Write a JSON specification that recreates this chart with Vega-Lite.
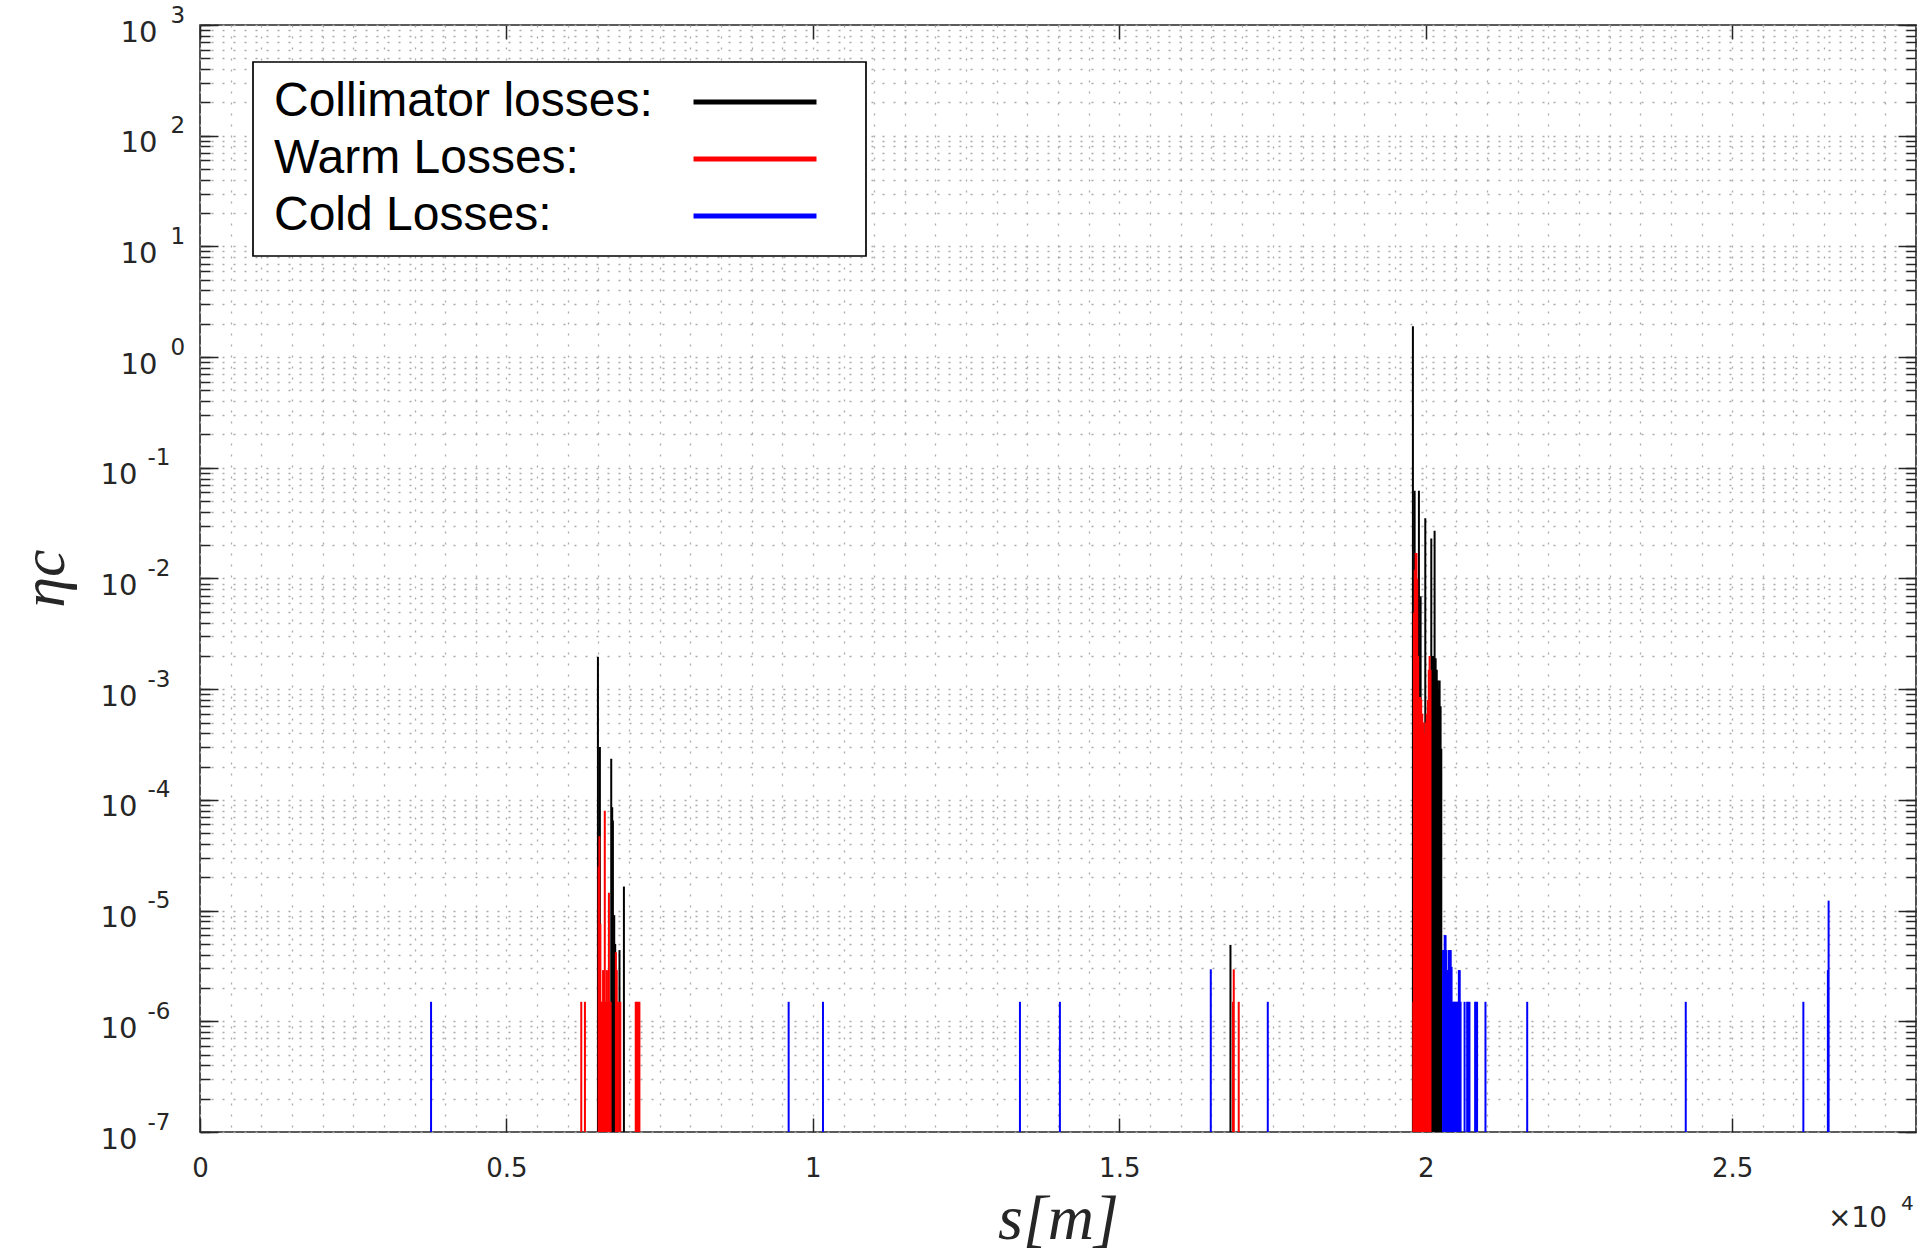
{
  "$schema": "https://vega.github.io/schema/vega-lite/v6.json",
  "autosize": {"type": "none"},
  "width": 1716,
  "height": 1107,
  "padding": {"left": 200, "top": 25, "right": 4, "bottom": 119},
  "background": "#ffffff",
  "config": {
    "view": {"stroke": "#262626", "strokeWidth": 1.6},
    "axis": {"domain": false, "labelColor": "#262626", "tickColor": "#262626", "tickWidth": 1.5, "gridColor": "#aaaaaa", "gridDash": [2, 9], "gridWidth": 1.3, "labelOverlap": false, "labelFlush": false}
  },
  "data": {"values": [
    {"s": 6493, "eta": 1.95e-3, "type": "Collimator losses:"},
    {"s": 6525, "eta": 3.0e-4, "type": "Collimator losses:"},
    {"s": 6710, "eta": 2.35e-4, "type": "Collimator losses:"},
    {"s": 6726, "eta": 8.6e-5, "type": "Collimator losses:"},
    {"s": 6737, "eta": 6.5e-5, "type": "Collimator losses:"},
    {"s": 6759, "eta": 9.1e-6, "type": "Collimator losses:"},
    {"s": 6775, "eta": 5.0e-6, "type": "Collimator losses:"},
    {"s": 6845, "eta": 4.4e-6, "type": "Collimator losses:"},
    {"s": 6917, "eta": 1.65e-5, "type": "Collimator losses:"},
    {"s": 16814, "eta": 4.9e-6, "type": "Collimator losses:"},
    {"s": 19791, "eta": 1.9, "type": "Collimator losses:"},
    {"s": 19819, "eta": 0.062, "type": "Collimator losses:"},
    {"s": 19889, "eta": 0.062, "type": "Collimator losses:"},
    {"s": 19917, "eta": 0.0069, "type": "Collimator losses:"},
    {"s": 19993, "eta": 0.035, "type": "Collimator losses:"},
    {"s": 20091, "eta": 0.023, "type": "Collimator losses:"},
    {"s": 20105, "eta": 2.0e-3, "type": "Collimator losses:"},
    {"s": 20120, "eta": 1.9e-3, "type": "Collimator losses:"},
    {"s": 20133, "eta": 2.0e-3, "type": "Collimator losses:"},
    {"s": 20145, "eta": 0.027, "type": "Collimator losses:"},
    {"s": 20162, "eta": 1.9e-3, "type": "Collimator losses:"},
    {"s": 20180, "eta": 1.5e-3, "type": "Collimator losses:"},
    {"s": 20199, "eta": 1.2e-3, "type": "Collimator losses:"},
    {"s": 20213, "eta": 1.0e-3, "type": "Collimator losses:"},
    {"s": 20227, "eta": 1.2e-3, "type": "Collimator losses:"},
    {"s": 20243, "eta": 7.0e-4, "type": "Collimator losses:"},
    {"s": 20254, "eta": 2.9e-4, "type": "Collimator losses:"},
    {"s": 6221, "eta": 1.5e-6, "type": "Warm Losses:"},
    {"s": 6281, "eta": 1.5e-6, "type": "Warm Losses:"},
    {"s": 6505, "eta": 2.5e-5, "type": "Warm Losses:"},
    {"s": 6517, "eta": 4.7e-5, "type": "Warm Losses:"},
    {"s": 6533, "eta": 7.6e-6, "type": "Warm Losses:"},
    {"s": 6548, "eta": 1.5e-6, "type": "Warm Losses:"},
    {"s": 6562, "eta": 1.5e-6, "type": "Warm Losses:"},
    {"s": 6577, "eta": 2.9e-6, "type": "Warm Losses:"},
    {"s": 6591, "eta": 1.5e-6, "type": "Warm Losses:"},
    {"s": 6605, "eta": 8.0e-5, "type": "Warm Losses:"},
    {"s": 6620, "eta": 1.5e-6, "type": "Warm Losses:"},
    {"s": 6640, "eta": 2.9e-6, "type": "Warm Losses:"},
    {"s": 6655, "eta": 1.5e-6, "type": "Warm Losses:"},
    {"s": 6672, "eta": 1.45e-5, "type": "Warm Losses:"},
    {"s": 6688, "eta": 1.5e-6, "type": "Warm Losses:"},
    {"s": 6700, "eta": 1.5e-6, "type": "Warm Losses:"},
    {"s": 6786, "eta": 4.2e-6, "type": "Warm Losses:"},
    {"s": 6800, "eta": 2.9e-6, "type": "Warm Losses:"},
    {"s": 6815, "eta": 1.5e-6, "type": "Warm Losses:"},
    {"s": 6830, "eta": 1.5e-6, "type": "Warm Losses:"},
    {"s": 6858, "eta": 1.5e-6, "type": "Warm Losses:"},
    {"s": 7110, "eta": 1.5e-6, "type": "Warm Losses:"},
    {"s": 7130, "eta": 1.5e-6, "type": "Warm Losses:"},
    {"s": 7150, "eta": 1.5e-6, "type": "Warm Losses:"},
    {"s": 7170, "eta": 1.5e-6, "type": "Warm Losses:"},
    {"s": 16856, "eta": 1.5e-6, "type": "Warm Losses:"},
    {"s": 16868, "eta": 2.95e-6, "type": "Warm Losses:"},
    {"s": 16949, "eta": 1.5e-6, "type": "Warm Losses:"},
    {"s": 19798, "eta": 1.5e-6, "type": "Warm Losses:"},
    {"s": 19807, "eta": 4.9e-3, "type": "Warm Losses:"},
    {"s": 19822, "eta": 0.012, "type": "Warm Losses:"},
    {"s": 19836, "eta": 0.017, "type": "Warm Losses:"},
    {"s": 19850, "eta": 0.017, "type": "Warm Losses:"},
    {"s": 19862, "eta": 0.01, "type": "Warm Losses:"},
    {"s": 19876, "eta": 2.0e-3, "type": "Warm Losses:"},
    {"s": 19895, "eta": 8.5e-4, "type": "Warm Losses:"},
    {"s": 19911, "eta": 8.5e-4, "type": "Warm Losses:"},
    {"s": 19926, "eta": 8e-4, "type": "Warm Losses:"},
    {"s": 19944, "eta": 6e-4, "type": "Warm Losses:"},
    {"s": 19962, "eta": 5e-4, "type": "Warm Losses:"},
    {"s": 19980, "eta": 4e-4, "type": "Warm Losses:"},
    {"s": 19998, "eta": 5e-4, "type": "Warm Losses:"},
    {"s": 20016, "eta": 6e-4, "type": "Warm Losses:"},
    {"s": 20034, "eta": 8e-4, "type": "Warm Losses:"},
    {"s": 20050, "eta": 1.5e-3, "type": "Warm Losses:"},
    {"s": 20063, "eta": 2.0e-3, "type": "Warm Losses:"},
    {"s": 20078, "eta": 1.5e-3, "type": "Warm Losses:"},
    {"s": 3770, "eta": 1.5e-6, "type": "Cold Losses:"},
    {"s": 9605, "eta": 1.5e-6, "type": "Cold Losses:"},
    {"s": 10165, "eta": 1.5e-6, "type": "Cold Losses:"},
    {"s": 13379, "eta": 1.5e-6, "type": "Cold Losses:"},
    {"s": 14031, "eta": 1.5e-6, "type": "Cold Losses:"},
    {"s": 16493, "eta": 2.95e-6, "type": "Cold Losses:"},
    {"s": 17423, "eta": 1.5e-6, "type": "Cold Losses:"},
    {"s": 20283, "eta": 4.4e-6, "type": "Cold Losses:"},
    {"s": 20296, "eta": 4.4e-6, "type": "Cold Losses:"},
    {"s": 20310, "eta": 6.0e-6, "type": "Cold Losses:"},
    {"s": 20324, "eta": 6.0e-6, "type": "Cold Losses:"},
    {"s": 20338, "eta": 4.4e-6, "type": "Cold Losses:"},
    {"s": 20352, "eta": 2.9e-6, "type": "Cold Losses:"},
    {"s": 20366, "eta": 2.9e-6, "type": "Cold Losses:"},
    {"s": 20380, "eta": 4.4e-6, "type": "Cold Losses:"},
    {"s": 20394, "eta": 4.4e-6, "type": "Cold Losses:"},
    {"s": 20408, "eta": 4.4e-6, "type": "Cold Losses:"},
    {"s": 20422, "eta": 3.1e-6, "type": "Cold Losses:"},
    {"s": 20437, "eta": 1.5e-6, "type": "Cold Losses:"},
    {"s": 20452, "eta": 1.5e-6, "type": "Cold Losses:"},
    {"s": 20467, "eta": 1.5e-6, "type": "Cold Losses:"},
    {"s": 20482, "eta": 1.5e-6, "type": "Cold Losses:"},
    {"s": 20497, "eta": 1.5e-6, "type": "Cold Losses:"},
    {"s": 20512, "eta": 1.5e-6, "type": "Cold Losses:"},
    {"s": 20527, "eta": 1.5e-6, "type": "Cold Losses:"},
    {"s": 20541, "eta": 2.9e-6, "type": "Cold Losses:"},
    {"s": 20555, "eta": 2.9e-6, "type": "Cold Losses:"},
    {"s": 20569, "eta": 1.5e-6, "type": "Cold Losses:"},
    {"s": 20634, "eta": 1.5e-6, "type": "Cold Losses:"},
    {"s": 20676, "eta": 1.5e-6, "type": "Cold Losses:"},
    {"s": 20695, "eta": 1.5e-6, "type": "Cold Losses:"},
    {"s": 20714, "eta": 1.5e-6, "type": "Cold Losses:"},
    {"s": 20806, "eta": 1.5e-6, "type": "Cold Losses:"},
    {"s": 20822, "eta": 1.5e-6, "type": "Cold Losses:"},
    {"s": 20838, "eta": 1.5e-6, "type": "Cold Losses:"},
    {"s": 20975, "eta": 1.5e-6, "type": "Cold Losses:"},
    {"s": 21656, "eta": 1.5e-6, "type": "Cold Losses:"},
    {"s": 24243, "eta": 1.5e-6, "type": "Cold Losses:"},
    {"s": 26162, "eta": 1.5e-6, "type": "Cold Losses:"},
    {"s": 26562, "eta": 2.9e-6, "type": "Cold Losses:"},
    {"s": 26574, "eta": 1.23e-5, "type": "Cold Losses:"}
  ]},
  "resolve": {"axis": {"x": "independent", "y": "independent"}},
  "layer": [
    {
      "mark": {"type": "rule", "strokeWidth": 2},
      "encoding": {
        "x": {"field": "s", "type": "quantitative",
          "scale": {"domain": [0, 28000], "nice": false, "zero": false},
          "axis": {"orient": "bottom", "values": [0, 5000, 10000, 15000, 20000, 25000], "ticks": false, "grid": false,
            "labelExpr": "'' + datum.value / 10000", "labelFont": "DejaVu Sans", "labelFontSize": 26, "labelPadding": 23, "labelBaseline": "top",
            "title": "s[m]", "titleFont": "Liberation Serif", "titleFontStyle": "italic", "titleFontWeight": "normal", "titleFontSize": 64, "titleColor": "#262626",
            "titleX": 858, "titleY": 106, "titleBaseline": "alphabetic", "titleAlign": "center"}},
        "y": {"field": "eta", "type": "quantitative",
          "scale": {"type": "log", "domain": [1e-7, 1000], "nice": false},
          "axis": {"orient": "left", "values": [1, 10, 100, 1000], "ticks": false, "grid": false,
            "labelExpr": "'10'", "labelFont": "DejaVu Sans", "labelFontSize": 29, "labelPadding": 43, "labelOffset": 7, "labelBaseline": "middle",
            "title": "ηc", "titleFont": "Liberation Serif", "titleFontStyle": "italic", "titleFontWeight": "normal", "titleFontSize": 62, "titleColor": "#262626",
            "titleX": -156, "titleY": 553, "titleAngle": -90, "titleAlign": "center", "titleBaseline": "middle"}},
        "y2": {"datum": 1e-7},
        "color": {"field": "type", "type": "nominal",
          "scale": {"domain": ["Collimator losses:", "Warm Losses:", "Cold Losses:"], "range": ["#000000", "#ff0000", "#0000ff"]},
          "legend": {"orient": "none", "legendX": 53, "legendY": 37, "title": null,
            "labelFont": "Liberation Sans", "labelFontSize": 48, "labelColor": "#000000", "labelBaseline": "middle", "labelLimit": 1000,
            "symbolType": "M-2.86,0H2.86M3.95,0", "symbolSize": 1849, "symbolStrokeWidth": 5, "symbolFillColor": "transparent",
            "symbolOffset": 462, "labelOffset": -505, "rowPadding": 9, "padding": 16,
            "strokeColor": "#000000", "fillColor": "#ffffff", "cornerRadius": 0,
            "encode": {"legend": {"update": {"strokeWidth": {"value": 1.7}}}}}}
      }
    },
    {
      "mark": {"type": "rule", "opacity": 0},
      "encoding": {
        "x": {"field": "s", "type": "quantitative", "axis": {"orient": "bottom", "values": [0, 5000, 10000, 15000, 20000, 25000], "tickSize": -14, "labels": false, "grid": false, "title": null}},
        "y": {"field": "eta", "type": "quantitative", "axis": {"orient": "left", "values": [1e-7, 1e-6, 1e-5, 1e-4, 1e-3, 1e-2, 1e-1, 1, 10, 100, 1000], "tickSize": -18, "labels": false, "grid": false, "title": null}}
      }
    },
    {
      "mark": {"type": "rule", "opacity": 0},
      "encoding": {
        "x": {"field": "s", "type": "quantitative", "axis": {"orient": "top", "values": [0, 5000, 10000, 15000, 20000, 25000], "tickSize": -14, "labels": false, "grid": false, "title": null}},
        "y": {"field": "eta", "type": "quantitative", "axis": {"orient": "left", "values": [1e-7, 2e-7, 3e-7, 4e-7, 5e-7, 6e-7, 7e-7, 8e-7, 9e-7, 1e-6, 2e-6, 3e-6, 4e-6, 5e-6, 6e-6, 7e-6, 8e-6, 9e-6, 1e-5, 2e-5, 3e-5, 4e-5, 5e-5, 6e-5, 7e-5, 8e-5, 9e-5, 1e-4, 2e-4, 3e-4, 4e-4, 5e-4, 6e-4, 7e-4, 8e-4, 9e-4, 1e-3, 2e-3, 3e-3, 4e-3, 5e-3, 6e-3, 7e-3, 8e-3, 9e-3, 1e-2, 2e-2, 3e-2, 4e-2, 5e-2, 6e-2, 7e-2, 8e-2, 9e-2, 0.1, 0.2, 0.3, 0.4, 0.5, 0.6, 0.7, 0.8, 0.9, 1, 2, 3, 4, 5, 6, 7, 8, 9, 10, 20, 30, 40, 50, 60, 70, 80, 90, 100, 200, 300, 400, 500, 600, 700, 800, 900, 1000], "tickSize": -10, "labels": false, "grid": true, "title": null}}
      }
    },
    {
      "mark": {"type": "rule", "opacity": 0},
      "encoding": {
        "x": {"field": "s", "type": "quantitative", "axis": {"orient": "bottom", "values": [0, 500, 1000, 1500, 2000, 2500, 3000, 3500, 4000, 4500, 5000, 5500, 6000, 6500, 7000, 7500, 8000, 8500, 9000, 9500, 10000, 10500, 11000, 11500, 12000, 12500, 13000, 13500, 14000, 14500, 15000, 15500, 16000, 16500, 17000, 17500, 18000, 18500, 19000, 19500, 20000, 20500, 21000, 21500, 22000, 22500, 23000, 23500, 24000, 24500, 25000, 25500, 26000, 26500, 27000, 27500, 28000], "ticks": false, "labels": false, "grid": true, "title": null}},
        "y": {"field": "eta", "type": "quantitative", "axis": {"orient": "right", "values": [1e-7, 1e-6, 1e-5, 1e-4, 1e-3, 1e-2, 1e-1, 1, 10, 100, 1000], "tickSize": -18, "labels": false, "grid": false, "title": null}}
      }
    },
    {
      "mark": {"type": "rule", "opacity": 0},
      "encoding": {
        "x": {"field": "s", "type": "quantitative", "axis": null},
        "y": {"field": "eta", "type": "quantitative", "axis": {"orient": "right", "values": [1e-7, 2e-7, 3e-7, 4e-7, 5e-7, 6e-7, 7e-7, 8e-7, 9e-7, 1e-6, 2e-6, 3e-6, 4e-6, 5e-6, 6e-6, 7e-6, 8e-6, 9e-6, 1e-5, 2e-5, 3e-5, 4e-5, 5e-5, 6e-5, 7e-5, 8e-5, 9e-5, 1e-4, 2e-4, 3e-4, 4e-4, 5e-4, 6e-4, 7e-4, 8e-4, 9e-4, 1e-3, 2e-3, 3e-3, 4e-3, 5e-3, 6e-3, 7e-3, 8e-3, 9e-3, 1e-2, 2e-2, 3e-2, 4e-2, 5e-2, 6e-2, 7e-2, 8e-2, 9e-2, 0.1, 0.2, 0.3, 0.4, 0.5, 0.6, 0.7, 0.8, 0.9, 1, 2, 3, 4, 5, 6, 7, 8, 9, 10, 20, 30, 40, 50, 60, 70, 80, 90, 100, 200, 300, 400, 500, 600, 700, 800, 900, 1000], "tickSize": -10, "labels": false, "grid": false, "title": null}}
      }
    },
    {
      "mark": {"type": "rule", "opacity": 0},
      "encoding": {
        "x": {"field": "s", "type": "quantitative", "axis": null},
        "y": {"field": "eta", "type": "quantitative", "axis": {"orient": "left", "values": [1e-7, 1e-6, 1e-5, 1e-4, 1e-3, 1e-2, 1e-1], "ticks": false, "grid": false, "title": null,
          "labelExpr": "'10'", "labelFont": "DejaVu Sans", "labelFontSize": 29, "labelPadding": 63, "labelOffset": 7, "labelBaseline": "middle"}}
      }
    },
    {
      "mark": {"type": "rule", "opacity": 0},
      "encoding": {
        "x": {"field": "s", "type": "quantitative", "axis": null},
        "y": {"field": "eta", "type": "quantitative", "axis": {"orient": "left", "values": [1, 10, 100, 1000], "ticks": false, "grid": false, "title": null,
          "labelExpr": "'' + round(log(datum.value) / LN10)", "labelFont": "DejaVu Sans", "labelFontSize": 23, "labelAlign": "left", "labelPadding": 30, "labelOffset": -10, "labelBaseline": "middle"}}
      }
    },
    {
      "mark": {"type": "rule", "opacity": 0},
      "encoding": {
        "x": {"field": "s", "type": "quantitative", "axis": null},
        "y": {"field": "eta", "type": "quantitative", "axis": {"orient": "left", "values": [1e-7, 1e-6, 1e-5, 1e-4, 1e-3, 1e-2, 1e-1], "ticks": false, "grid": false, "title": null,
          "labelExpr": "'' + round(log(datum.value) / LN10)", "labelFont": "DejaVu Sans", "labelFontSize": 23, "labelAlign": "left", "labelPadding": 53, "labelOffset": -10, "labelBaseline": "middle"}}
      }
    },
    {
      "data": {"values": [{"label": "×10"}]},
      "mark": {"type": "text", "align": "right", "baseline": "alphabetic", "dx": -29, "dy": 95, "font": "DejaVu Sans", "fontSize": 28, "color": "#262626"},
      "encoding": {
        "x": {"datum": 28000, "type": "quantitative", "axis": null},
        "y": {"datum": 1e-7, "type": "quantitative", "axis": null},
        "text": {"field": "label"}
      }
    },
    {
      "data": {"values": [{"label": "4"}]},
      "mark": {"type": "text", "align": "left", "baseline": "alphabetic", "dx": -15, "dy": 78, "font": "DejaVu Sans", "fontSize": 20, "color": "#262626"},
      "encoding": {
        "x": {"datum": 28000, "type": "quantitative", "axis": null},
        "y": {"datum": 1e-7, "type": "quantitative", "axis": null},
        "text": {"field": "label"}
      }
    }
  ]
}
